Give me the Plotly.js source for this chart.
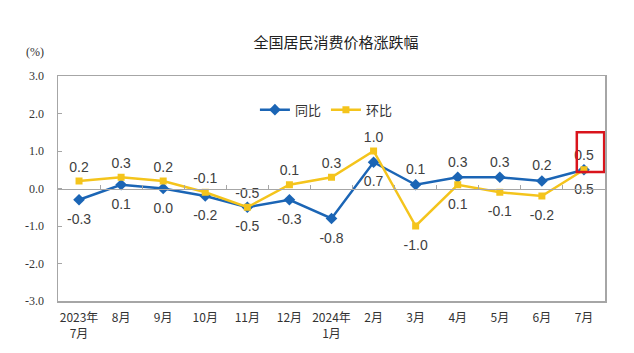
<!DOCTYPE html>
<html>
<head>
<meta charset="utf-8">
<script src="https://cdn.plot.ly/plotly-3.0.1.min.js"></script>
<style>html,body{margin:0;padding:0;background:#fff;}#chart{width:634px;height:353px;}</style>
</head>
<body>
<div id="chart"></div>
<script>
const categories = ["2023年<br>7月","8月","9月","10月","11月","12月","2024年<br>1月","2月","3月","4月","5月","6月","7月"];
const yoyValues = [-0.3, 0.1, 0.0, -0.2, -0.5, -0.3, -0.8, 0.7, 0.1, 0.3, 0.3, 0.2, 0.5];
const momValues = [0.2, 0.3, 0.2, -0.1, -0.5, 0.1, 0.3, 1.0, -1.0, 0.1, -0.1, -0.2, 0.5];
const yoyLabelAbove = [false,false,false,false,false,false,false,false,true,true,true,true,false];
const momLabelAbove = [true,true,true,true,true,true,true,true,false,false,false,false,true];
const yTickVals = [-3, -2, -1, 0, 1, 2, 3];
const yTickText = ["-3.0","-2.0","-1.0","0.0","1.0","2.0","3.0"];

const idx = categories.map((_, i) => i);
const labelFont = {family: "Liberation Sans, Arial, sans-serif", size: 14, color: "#404040"};
const gray = "#a6a6a6";
const blue = "#1b65b5";
const yellow = "#f4c41c";

function labelTrace(values, above, wantAbove, size) {
  return {
    x: idx, y: values, type: "scatter", mode: "markers+text",
    marker: {size: size, opacity: 0},
    text: values.map((v, i) => above[i] === wantAbove ? v.toFixed(1) : ""),
    textposition: wantAbove ? "top center" : "bottom center",
    textfont: labelFont, cliponaxis: false, showlegend: false, hoverinfo: "skip"
  };
}

const traces = [
  {
    x: idx, y: yoyValues, name: "同比", type: "scatter", mode: "lines+markers",
    line: {color: blue, width: 2.5},
    marker: {symbol: "diamond", size: 9, color: blue}
  },
  {
    x: idx, y: momValues, name: "环比", type: "scatter", mode: "lines+markers",
    line: {color: yellow, width: 2.5},
    marker: {symbol: "square", size: 7, color: yellow}
  },
  labelTrace(yoyValues, yoyLabelAbove, true, 10),
  labelTrace(yoyValues, yoyLabelAbove, false, 20),
  labelTrace(momValues, momLabelAbove, true, 8),
  labelTrace(momValues, momLabelAbove, false, 20),
  {
    x: [0], y: [0], xaxis: "x2", yaxis: "y2", type: "scatter", mode: "markers",
    marker: {opacity: 0}, showlegend: false, hoverinfo: "skip"
  }
];

const layout = {
  width: 634, height: 353,
  margin: {l: 58, r: 29, t: 76, b: 52},
  paper_bgcolor: "#fff", plot_bgcolor: "#fff",
  font: {family: "Noto Sans CJK SC, sans-serif", color: "#333"},
  title: {text: "全国居民消费价格涨跌幅", x: 0.53, xanchor: "center", y: 0.88, yanchor: "middle",
          font: {family: "Noto Sans CJK SC, sans-serif", size: 15, color: "#222"}},
  showlegend: true,
  legend: {orientation: "h", x: 0.36, y: 0.85, xanchor: "left", yanchor: "middle",
           bgcolor: "rgba(0,0,0,0)", font: {family: "Noto Sans CJK SC, sans-serif", size: 13, color: "#333"},
           itemwidth: 30, tracegroupgap: 0},
  xaxis: {
    range: [-0.5, 12.5], tickmode: "array", tickvals: idx, ticktext: categories,
    showline: true, mirror: true, linecolor: gray, linewidth: 1.5,
    showgrid: false, zeroline: false, ticks: "", ticklabelstandoff: 5,
    tickfont: {family: "Noto Sans CJK SC, sans-serif", size: 12, color: "#333"}
  },
  xaxis2: {
    overlaying: "x", anchor: "free", position: 0.5, side: "bottom",
    range: [-0.5, 12.5], tickmode: "array", tickvals: idx.slice(0, 12).map(i => i + 0.5),
    showticklabels: false, ticks: "inside", ticklen: 4, tickcolor: gray,
    showline: true, linecolor: gray, linewidth: 1.5, showgrid: false, zeroline: false
  },
  yaxis: {
    range: [-3, 3], tickmode: "array", tickvals: yTickVals, ticktext: yTickText,
    showline: true, mirror: true, linecolor: gray, linewidth: 1.5,
    showgrid: false, zeroline: false, ticks: "outside", ticklen: 10, tickcolor: "rgba(0,0,0,0)",
    tickfont: {family: "Liberation Serif, serif", size: 12, color: "#333"}
  },
  yaxis2: {
    overlaying: "y", anchor: "x", side: "left",
    range: [-3, 3], tickmode: "array", tickvals: yTickVals,
    showticklabels: false, ticks: "inside", ticklen: 4, tickcolor: gray,
    showline: false, showgrid: false, zeroline: false
  },
  annotations: [
    {text: "(%)", xref: "paper", yref: "paper", x: -0.022, y: 1.105, xanchor: "right", yanchor: "middle",
     showarrow: false, font: {family: "Liberation Serif, serif", size: 12, color: "#333"}}
  ],
  shapes: [
    {type: "rect", xref: "x", yref: "y", x0: 11.83, x1: 12.48, y0: 0.44, y1: 1.5,
     line: {color: "#d9141c", width: 2.5}, fillcolor: "rgba(0,0,0,0)"}
  ]
};

Plotly.newPlot("chart", traces, layout, {displayModeBar: false, staticPlot: true});
</script>
</body>
</html>
